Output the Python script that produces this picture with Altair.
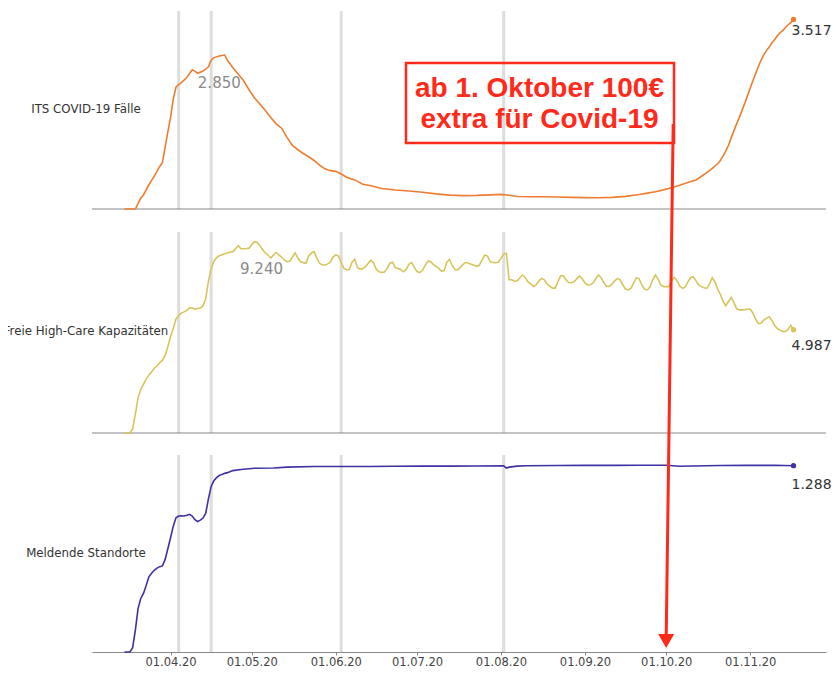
import altair as alt
import pandas as pd

# ---------------- data ----------------
# ITS COVID-19 Fälle
its_dates = [
    "2020-03-15", "2020-03-19", "2020-03-20", "2020-03-21", "2020-03-22", "2020-03-24", "2020-03-26", "2020-03-28", "2020-03-29", "2020-03-30",
    "2020-03-31", "2020-04-01", "2020-04-02", "2020-04-03", "2020-04-04", "2020-04-05", "2020-04-07", "2020-04-09", "2020-04-10", "2020-04-11",
    "2020-04-13", "2020-04-15", "2020-04-16", "2020-04-17", "2020-04-19", "2020-04-20", "2020-04-21", "2020-04-22", "2020-04-24", "2020-04-26",
    "2020-04-28", "2020-04-30", "2020-05-02", "2020-05-04", "2020-05-06", "2020-05-08", "2020-05-10", "2020-05-12", "2020-05-14", "2020-05-16",
    "2020-05-18", "2020-05-20", "2020-05-22", "2020-05-24", "2020-05-26", "2020-05-28", "2020-05-30", "2020-06-01", "2020-06-03", "2020-06-05",
    "2020-06-08", "2020-06-11", "2020-06-14", "2020-06-18", "2020-06-23", "2020-06-28", "2020-07-03", "2020-07-08", "2020-07-13", "2020-07-18",
    "2020-07-23", "2020-07-28", "2020-08-01", "2020-08-04", "2020-08-07", "2020-08-12", "2020-08-17", "2020-08-22", "2020-08-27", "2020-09-01",
    "2020-09-06", "2020-09-11", "2020-09-16", "2020-09-21", "2020-09-24", "2020-09-27", "2020-09-30", "2020-10-03", "2020-10-06", "2020-10-09",
    "2020-10-12", "2020-10-15", "2020-10-18", "2020-10-20", "2020-10-21", "2020-10-22", "2020-10-23", "2020-10-24", "2020-10-25", "2020-10-26",
    "2020-10-27", "2020-10-28", "2020-10-29", "2020-10-30", "2020-10-31", "2020-11-01", "2020-11-02", "2020-11-03", "2020-11-04", "2020-11-05",
    "2020-11-06", "2020-11-07", "2020-11-08", "2020-11-09", "2020-11-10", "2020-11-11", "2020-11-12", "2020-11-13", "2020-11-14", "2020-11-15",
    "2020-11-16", "2020-11-17",
]
its_values = [
    0, 0, 100, 200, 260, 450, 610, 790, 860, 1150,
    1430, 1700, 2040, 2260, 2310, 2345, 2440, 2585, 2560, 2520,
    2560, 2640, 2760, 2810, 2840, 2850, 2858, 2760, 2620, 2500,
    2380, 2210, 2060, 1950, 1830, 1700, 1580, 1500, 1330, 1180,
    1100, 1030, 970, 900, 815, 745, 712, 698, 650, 590,
    540, 460, 432, 380, 352, 335, 310, 280, 258, 248,
    252, 262, 272, 255, 232, 228, 228, 222, 215, 212,
    210, 215, 235, 270, 295, 321, 355, 395, 440, 490,
    540, 640, 755, 840, 900, 980, 1080, 1180, 1320, 1450,
    1580, 1700, 1830, 1960, 2100, 2240, 2380, 2510, 2640, 2760,
    2860, 2940, 3000, 3080, 3140, 3210, 3270, 3310, 3370, 3420,
    3460, 3517,
]

# Freie High-Care Kapazitäten, daily values from 15.03.2020
hc_start = "2020-03-15"
hc_values = [
    0, 0, 0, 200, 900, 1700, 2100, 2350, 2600, 2800,
    2950, 3130, 3250, 3400, 3520, 3750, 4170, 4650, 5050, 5500,
    5680, 5790, 5850, 5920, 6050, 6040, 5980, 6010, 6040, 6150,
    6500, 7350, 7950, 8300, 8470, 8560, 8610, 8660, 8700, 8740,
    8760, 8900, 9050, 8900, 8900, 8910, 8930, 9100, 9240, 9200,
    9050, 8850, 8700, 8600, 8450, 8600, 8730, 8600, 8500, 8350,
    8280, 8300, 8500, 8700, 8450, 8270, 8230, 8200, 8550, 8700,
    8760, 8450, 8200, 8130, 8115, 8170, 8250, 8500, 8600, 8550,
    8250, 7950, 7890, 7900, 8250, 8390, 8000, 7910, 7950, 8040,
    8200, 8350, 8200, 7900, 7790, 7760, 7780, 7950, 8200, 8250,
    7980, 7950, 7900, 7790, 7900, 8150, 8230, 8000, 7800, 7744,
    7850, 8100, 8300, 8280, 8150, 8050, 7950, 7820, 7850, 8250,
    8380, 8100, 7900, 7880, 8000, 8150, 8245, 8200, 8150, 8100,
    8050, 8100, 8350, 8600, 8550, 8280, 8240, 8230, 8250, 8450,
    8650, 8680, 7400, 7400, 7330, 7350, 7500, 7630, 7500, 7300,
    7200, 7080, 7150, 7350, 7470, 7400, 7200, 7100, 7000, 7000,
    7300, 7600, 7600, 7400, 7270, 7260, 7300, 7450, 7585, 7450,
    7250, 7150, 7160, 7250, 7450, 7630, 7500, 7250, 7080, 7080,
    7200, 7350, 7470, 7400, 7150, 6950, 6910, 7000, 7250, 7500,
    7450, 7150, 6950, 6910, 7050, 7400, 7630, 7450, 7150, 7070,
    7070, 7070, 7350, 7520, 7350, 7100, 6990, 7050, 7300, 7500,
    7550, 7350, 7150, 7070, 7020, 6990, 7200, 7500, 7300, 6950,
    6700, 6350, 6150, 6350, 6555, 6300, 6000, 5950, 5950, 5960,
    5980, 5990, 5800, 5500, 5280, 5300, 5450, 5550, 5620, 5450,
    5200, 5050, 4980, 4920, 4894, 5000, 5200, 4987,
]

# Meldende Standorte
ms_dates = [
    "2020-03-15", "2020-03-17", "2020-03-18", "2020-03-19", "2020-03-20", "2020-03-21", "2020-03-22", "2020-03-23", "2020-03-24", "2020-03-25",
    "2020-03-26", "2020-03-27", "2020-03-28", "2020-03-29", "2020-03-30", "2020-03-31", "2020-04-01", "2020-04-02", "2020-04-03", "2020-04-04",
    "2020-04-05", "2020-04-06", "2020-04-07", "2020-04-08", "2020-04-09", "2020-04-10", "2020-04-11", "2020-04-12", "2020-04-13", "2020-04-14",
    "2020-04-15", "2020-04-16", "2020-04-17", "2020-04-18", "2020-04-19", "2020-04-20", "2020-04-21", "2020-04-22", "2020-04-24", "2020-04-27",
    "2020-05-02", "2020-05-09", "2020-05-14", "2020-05-24", "2020-06-03", "2020-06-13", "2020-06-23", "2020-07-03", "2020-07-13", "2020-07-23",
    "2020-08-02", "2020-08-03", "2020-08-04", "2020-08-07", "2020-08-10", "2020-08-22", "2020-09-01", "2020-09-11", "2020-09-21", "2020-10-01",
    "2020-10-06", "2020-10-11", "2020-10-21", "2020-10-31", "2020-11-10", "2020-11-17",
]
ms_values = [
    0, 0, 30, 150, 300, 370, 405, 460, 520, 545,
    565, 580, 590, 595, 640, 714, 790, 870, 928, 940,
    941, 940, 945, 952, 940, 915, 902, 912, 926, 960,
    1060, 1145, 1185, 1205, 1220, 1228, 1235, 1240, 1254, 1262,
    1270, 1272, 1278, 1282, 1283, 1283, 1284, 1285, 1285, 1286,
    1287, 1272, 1278, 1285, 1288, 1289, 1290, 1290, 1291, 1291,
    1284, 1286, 1289, 1290, 1291, 1288,
]

marker_dates = ["2020-04-04", "2020-04-16", "2020-06-03", "2020-08-02"]
row_labels = ["ITS COVID-19 Fälle", "Freie High-Care Kapazitäten", "Meldende Standorte"]
peak_dates = ["2020-04-19", "2020-05-04T14:00"]
peak_values = [2850, 9240]
annotation_lines = ["ab 1. Oktober 100€", "extra für Covid-19"]

# ---------------- layout / style ----------------
W, H = 734, 641
RED = "#ff2a1a"
colors = ["#ee7d31", "#d6c55c", "#3d31a3"]
y_domains = [[0, 3675], [0, 9710], [0, 1362]]
y_ranges = [[198, 0], [422, 221], [641, 444]]
panel_tops = [0, 221, 444]
panel_bottoms = [198, 422, 641]
label_mid = [98, 320, 542]
end_dy = [11.5, 16, 19.3]


def de_num(v):
    return f"{v:,}".replace(",", ".")


assert len(its_dates) == len(its_values)
assert len(ms_dates) == len(ms_values)

its = pd.DataFrame({"date": pd.to_datetime(its_dates), "value": its_values})
hc = pd.DataFrame({"date": pd.date_range(hc_start, periods=len(hc_values), freq="D"), "value": hc_values})
ms = pd.DataFrame({"date": pd.to_datetime(ms_dates), "value": ms_values})
series = [its, hc, ms]

xs = alt.Scale(domain=[alt.DateTime(year=2020, month=3, date=3), alt.DateTime(year=2020, month=11, date=29)])
xaxis = alt.Axis(
    format="%d.%m.%y",
    values=[alt.DateTime(year=2020, month=m, date=1) for m in range(4, 12)],
    grid=False, title=None, labelFont="DejaVu Sans", labelFontSize=11.5,
    labelColor="#444444", domainColor="#888888", tickColor="#888888",
    tickSize=3, labelPadding=1, labelFlush=False,
)


def X(field="date:T"):
    return alt.X(field, scale=xs, axis=xaxis)


layers = []
markers = pd.DataFrame({"date": pd.to_datetime(marker_dates)})

for i in range(3):
    # light grey vertical markers
    layers.append(
        alt.Chart(markers).mark_rule(color="#dddddd", strokeWidth=3).encode(
            x=X(), y=alt.value(panel_tops[i]), y2=alt.value(panel_bottoms[i])
        )
    )
    if i < 2:
        layers.append(
            alt.Chart(pd.DataFrame({"k": [0]})).mark_rule(color="#888888", strokeWidth=1).encode(
                x=alt.value(0), x2=alt.value(W), y=alt.value(panel_bottoms[i])
            )
        )

for i in range(3):
    df = series[i]
    ysc = alt.Scale(domain=y_domains[i], range=y_ranges[i])
    Y = alt.Y("value:Q", scale=ysc, axis=None)
    layers.append(alt.Chart(df).mark_line(color=colors[i], strokeWidth=1.6).encode(x=X(), y=Y))
    last = df.tail(1).copy()
    last["label"] = [de_num(int(v)) for v in last["value"]]
    layers.append(alt.Chart(last).mark_circle(color=colors[i], size=28, opacity=1).encode(x=X(), y=Y))
    layers.append(
        alt.Chart(last).mark_text(
            align="left", baseline="middle", dx=-2, dy=end_dy[i], font="DejaVu Sans",
            fontSize=14, color="#333333"
        ).encode(x=X(), y=Y, text="label:N")
    )
    layers.append(
        alt.Chart(pd.DataFrame({"label": [row_labels[i]]})).mark_text(
            align="center", baseline="middle", font="DejaVu Sans", fontSize=11.8, color="#333333"
        ).encode(x=alt.value(-6), y=alt.value(label_mid[i]), text="label:N")
    )
    if i < 2:
        pk = pd.DataFrame({"date": pd.to_datetime([peak_dates[i]]), "value": [peak_values[i]],
                           "label": [de_num(peak_values[i])]})
        layers.append(
            alt.Chart(pk).mark_text(
                align="center", baseline="middle", dy=27.5, font="DejaVu Sans", fontSize=15, color="#8a8a8a"
            ).encode(x=X(), y=Y, text="label:N")
        )

# red annotation box
layers.append(
    alt.Chart(pd.DataFrame({"k": [0]})).mark_rect(
        fillOpacity=0, stroke=RED, strokeWidth=2.5
    ).encode(x=alt.value(314), x2=alt.value(582), y=alt.value(52), y2=alt.value(132))
)
for j, ypos in enumerate([85.7, 116.7]):
    layers.append(
        alt.Chart(pd.DataFrame({"t": [annotation_lines[j]]})).mark_text(
            align="center", baseline="alphabetic", font="Liberation Sans", fontWeight="bold",
            fontSize=28, color=RED
        ).encode(x=alt.value(447.5), y=alt.value(ypos), text="t:N")
    )

# red arrow pointing to 01.10.20
layers.append(
    alt.Chart(pd.DataFrame({"k": [0]})).mark_rule(color=RED, strokeWidth=3).encode(
        x=alt.X(datum=alt.DateTime(year=2020, month=10, date=3, hours=14), scale=xs, axis=xaxis),
        x2=alt.X2(datum=alt.DateTime(year=2020, month=10, date=1)),
        y=alt.value(113), y2=alt.value(626),
    )
)
layers.append(
    alt.Chart(pd.DataFrame({"k": [0]})).mark_point(
        shape="triangle-down", filled=True, size=256, color=RED, opacity=1
    ).encode(
        x=alt.X(datum=alt.DateTime(year=2020, month=10, date=1), scale=xs, axis=xaxis),
        y=alt.value(630),
    )
)

chart = (
    alt.layer(*layers)
    .resolve_scale(y="independent")
    .properties(
        width=W, height=H,
        autosize=alt.AutoSizeParams(type="none"),
        padding={"left": 84, "top": 3, "right": 6, "bottom": 15},
    )
    .configure_view(stroke=None)
)

chart.save("out.html", embed_options={"renderer": "svg", "actions": False})
